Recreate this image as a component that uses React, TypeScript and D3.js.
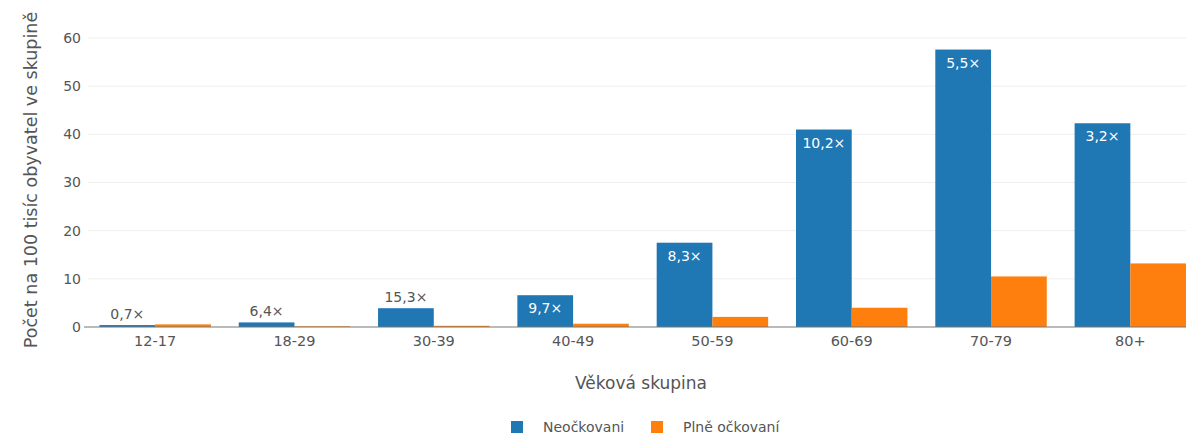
import React from "react";
import * as d3 from "d3";

const ageGroups = ["12-17", "18-29", "30-39", "40-49", "50-59", "60-69", "70-79", "80+"];
const unvaccinated = [0.4, 0.95, 3.9, 6.6, 17.5, 41.0, 57.6, 42.3];
const fullyVaccinated = [0.55, 0.15, 0.25, 0.68, 2.1, 4.0, 10.5, 13.2];
const ratioLabels = ["0,7×", "6,4×", "15,3×", "9,7×", "8,3×", "10,2×", "5,5×", "3,2×"];
const yTicks = [0, 10, 20, 30, 40, 50, 60];
const seriesNames = ["Neočkovani", "Plně očkovaní"];
const seriesColors = ["#1f77b4", "#ff7f0e"];

const W = 1186;
const H = 435;
const FONT = "'DejaVu Sans', Verdana, sans-serif";

const App = () => {
  // plot area
  const x = d3.scaleBand().domain(ageGroups).range([85.5, 1200]).paddingInner(0.2).paddingOuter(0.1);
  const xSub = d3.scaleBand().domain(["0", "1"]).range([0, x.bandwidth()]);
  const y = d3.scaleLinear().domain([0, 60]).range([327, 38]);

  const series = [unvaccinated, fullyVaccinated];

  return (
    <svg
      width={W}
      height={H}
      style={{ position: "absolute", left: 0, top: 0, background: "#fff" }}
      fontFamily={FONT}
    >
      {/* grid */}
      {yTicks.map((t) => (
        <g key={t}>
          {t !== 0 && (
            <line x1={88} x2={W} y1={y(t)} y2={y(t)} stroke="#eeeeee" strokeWidth={1} />
          )}
          <text x={81} y={y(t)} dy="0.35em" textAnchor="end" fontSize={14} fill="#555">
            {t}
          </text>
        </g>
      ))}

      {/* bars */}
      {series.map((vals, si) =>
        ageGroups.map((g, i) => (
          <rect
            key={`${si}-${g}`}
            x={(x(g) as number) + (xSub(String(si)) as number)}
            y={y(vals[i])}
            width={xSub.bandwidth()}
            height={y(0) - y(vals[i])}
            fill={seriesColors[si]}
          />
        ))
      )}

      {/* zero line */}
      <line x1={84} x2={W} y1={y(0)} y2={y(0)} stroke="#777" strokeWidth={1.2} />

      {/* ratio labels on the unvaccinated bars */}
      {ageGroups.map((g, i) => {
        const cx = (x(g) as number) + (xSub("0") as number) + xSub.bandwidth() / 2;
        const top = y(unvaccinated[i]);
        const inside = y(0) - top > 24;
        return (
          <text
            key={g}
            x={cx}
            y={inside ? top + 18 : top - 6}
            textAnchor="middle"
            fontSize={14}
            fill={inside ? "#fff" : "#555"}
          >
            {ratioLabels[i]}
          </text>
        );
      })}

      {/* x tick labels */}
      {ageGroups.map((g) => (
        <text
          key={g}
          x={(x(g) as number) + x.bandwidth() / 2}
          y={346}
          textAnchor="middle"
          fontSize={14.5}
          fill="#555"
        >
          {g}
        </text>
      ))}

      {/* axis titles */}
      <text x={641} y={389} textAnchor="middle" fontSize={17} fill="#555">
        Věková skupina
      </text>
      <text
        transform={`translate(37,180) rotate(-90)`}
        textAnchor="middle"
        fontSize={17.5}
        fill="#555"
      >
        Počet na 100 tisíc obyvatel ve skupině
      </text>

      {/* legend */}
      {seriesNames.map((name, i) => {
        const lx = i === 0 ? 511 : 651;
        return (
          <g key={name}>
            <rect x={lx} y={421} width={12} height={12} fill={seriesColors[i]} />
            <text x={lx + 32} y={432} fontSize={14} fill="#555">
              {name}
            </text>
          </g>
        );
      })}
    </svg>
  );
};

export default App;
